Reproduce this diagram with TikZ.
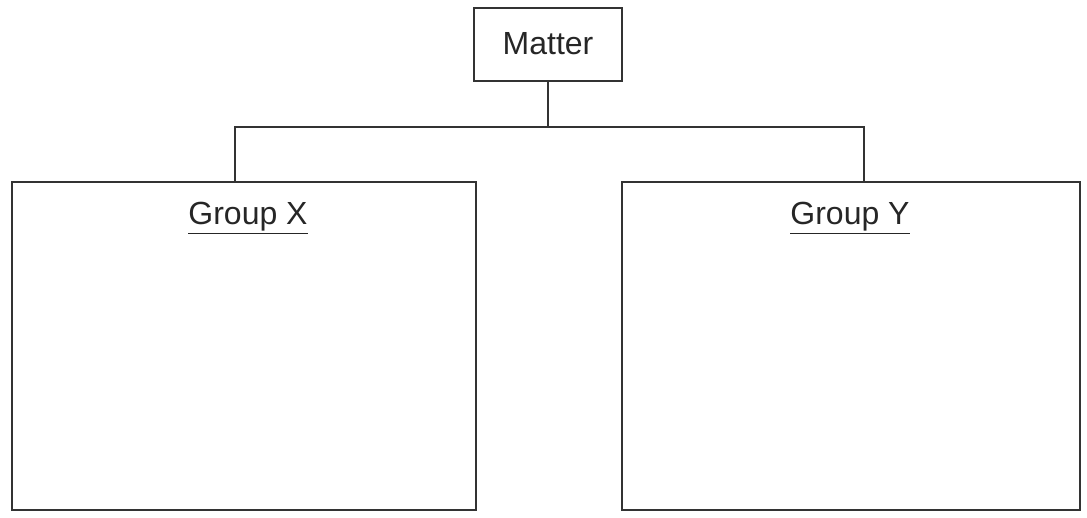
\documentclass[tikz,border=0pt]{standalone}
\usepackage{fontspec}
\setmainfont{Liberation Sans}
\begin{document}
\begin{tikzpicture}[x=1pt,y=-1pt,
  line/.style={draw=black!80, line width=1.3pt},
  box/.style={line, rectangle, inner sep=0pt},
  lbl/.style={font=\fontsize{32}{36}\selectfont, text=black!85, inner sep=0pt}]
\useasboundingbox (0,0) rectangle (1087,518);
\node[box, minimum width=148pt, minimum height=73pt] (matter) at (548,44.5) {};
\node[lbl] (mattertext) at (548,44) {Matter};
\node[box, minimum width=464pt, minimum height=328pt] (gx) at (244,346) {};
\node[box, minimum width=458pt, minimum height=328pt] (gy) at (851,346) {};
\node[lbl, anchor=base] (gxt) at (248,225) {\underline{Group X}};
\node[lbl, anchor=base] (gyt) at (850,225) {\underline{Group Y}};
\coordinate (bus) at (548,127);
\coordinate (gxtop) at (235,182);
\coordinate (gytop) at (864,182);
\draw[line] (matter.south) -- (bus);
\draw[line] (gxtop) |- (bus) -| (gytop);
\end{tikzpicture}
\end{document}
